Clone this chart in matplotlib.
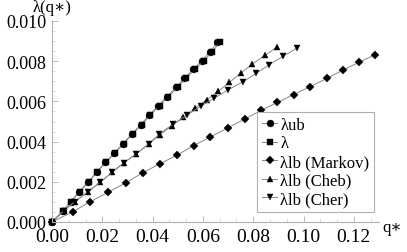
import matplotlib
matplotlib.use("Agg")
import matplotlib.pyplot as plt
from matplotlib.ticker import MultipleLocator, AutoMinorLocator, FormatStrFormatter

# values
ub_q = [0.0, 0.00425, 0.00744, 0.01085, 0.01443, 0.01789, 0.02119, 0.02477, 0.02823, 0.03169,
        0.03527, 0.03869, 0.04226, 0.0456, 0.0493, 0.0526, 0.05618, 0.05952, 0.06282, 0.06572]
ub_lam = [0.0, 0.00053, 0.00101, 0.00151, 0.0020, 0.0025, 0.00297, 0.00343, 0.0039, 0.00438,
          0.00484, 0.00532, 0.00579, 0.00623, 0.0067, 0.00716, 0.0076, 0.00802, 0.00847, 0.00894]

lam_q = [0.0, 0.00428, 0.0075, 0.01095, 0.01456, 0.01806, 0.0214, 0.02502, 0.02852, 0.03203,
         0.03566, 0.03913, 0.04276, 0.04616, 0.04992, 0.05328, 0.05693, 0.06034, 0.06371, 0.06675]
lam_val = ub_lam

markov_q = [0.0, 0.00823, 0.01523, 0.02227, 0.0293, 0.03606, 0.04282, 0.0497, 0.05634, 0.06294,
            0.06986, 0.07662, 0.0831, 0.08958, 0.0961, 0.1027, 0.1092, 0.1157, 0.1221, 0.1284]
markov_lam = [0.0, 0.00051, 0.00101, 0.00148, 0.00195, 0.00245, 0.00289, 0.00333, 0.0038, 0.00423,
              0.00468, 0.00512, 0.00555, 0.00595, 0.00634, 0.00674, 0.00714, 0.00756, 0.00795, 0.00832]

cheb_q = [0.0, 0.00465, 0.00914, 0.01431, 0.0192, 0.02386, 0.02851, 0.0334, 0.03845, 0.04294,
          0.04759, 0.0522, 0.05686, 0.06151, 0.06612, 0.0705, 0.07503, 0.07964, 0.08469, 0.08934]
cheb_lam = [0.0, 0.00056, 0.00101, 0.00151, 0.00198, 0.00247, 0.00294, 0.00338, 0.00388, 0.00434,
            0.00479, 0.00521, 0.00566, 0.00608, 0.0065, 0.00695, 0.0074, 0.00786, 0.00829, 0.00869]

cher_q = [0.0, 0.00465, 0.00914, 0.01431, 0.0192, 0.02386, 0.02851, 0.0334, 0.03845, 0.04266,
          0.04823, 0.0538, 0.05912, 0.06441, 0.0701, 0.07582, 0.08111, 0.0864, 0.09185, 0.09729]
cher_lam = [0.0, 0.00056, 0.00101, 0.00151, 0.00198, 0.00247, 0.00294, 0.00338, 0.00388, 0.00438,
            0.00488, 0.00532, 0.00576, 0.00615, 0.00658, 0.00697, 0.00739, 0.00783, 0.00824, 0.00864]

series = [
    (ub_q, ub_lam, "o", 5.0, "λub"),
    (lam_q, lam_val, "s", 4.6, "λ"),
    (markov_q, markov_lam, "D", 4.0, "λlb (Markov)"),
    (cheb_q, cheb_lam, "^", 5.0, "λlb (Cheb)"),
    (cher_q, cher_lam, "v", 5.0, "λlb (Cher)"),
]

plt.rcParams["font.family"] = ["Liberation Serif", "DejaVu Serif"]

fig = plt.figure(figsize=(4.07, 2.53), dpi=100)
ax = fig.add_axes([52 / 407, 30 / 253, 327 / 407, 201 / 253])

for q, lam, mk, ms, label in series:
    ax.plot(q, lam, color="#888888", linewidth=0.7, marker=mk, markersize=ms,
            markerfacecolor="black", markeredgecolor="black", markeredgewidth=0.3,
            label=label, clip_on=False)

ax.set_xlim(0, 0.13)
ax.set_ylim(0, 0.010)
ax.xaxis.set_major_locator(MultipleLocator(0.02))
ax.yaxis.set_major_locator(MultipleLocator(0.002))
ax.xaxis.set_minor_locator(AutoMinorLocator(3))
ax.yaxis.set_minor_locator(AutoMinorLocator(4))
ax.xaxis.set_major_formatter(FormatStrFormatter("%.2f"))
ax.yaxis.set_major_formatter(FormatStrFormatter("%.3f"))

for s in ["top", "right"]:
    ax.spines[s].set_visible(False)
for s in ["left", "bottom"]:
    ax.spines[s].set_color("#b0b0b0")
    ax.spines[s].set_linewidth(0.8)

ax.tick_params(which="major", direction="in", length=4, width=0.6, color="#b0b0b0", pad=4)
ax.tick_params(axis="y", which="major", labelsize=13)
ax.tick_params(axis="x", which="major", labelsize=14)
ax.tick_params(which="minor", direction="in", length=2.5, width=0.5, color="#c8c8c8")

fig.text(52 / 407, 1 - 8 / 253, "λ(q∗)", ha="center", va="center", fontsize=12)
fig.text(382 / 407, 1 - 228 / 253, "q∗", ha="left", va="center", fontsize=12)

leg = ax.legend(loc="upper left", bbox_to_anchor=(257 / 407, 1 - 113 / 253),
                bbox_transform=fig.transFigure, borderaxespad=0, fontsize=12,
                handlelength=0.9, handletextpad=0.2, labelspacing=0.15,
                borderpad=0.3, fancybox=False, framealpha=1)
leg.get_frame().set_edgecolor("#b0b0b0")
leg.get_frame().set_linewidth(0.8)

fig.savefig("out.png", dpi=100)
